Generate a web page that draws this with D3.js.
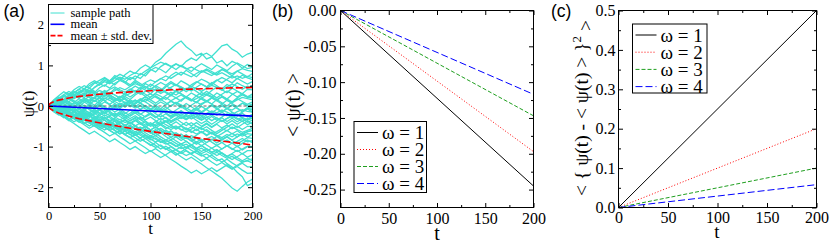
<!DOCTYPE html>
<html>
<head>
<meta charset="utf-8">
<script src="https://cdn.jsdelivr.net/npm/d3@7"></script>
<style>
  body { margin: 0; background: #fff; }
  svg { display: block; }
  .serif { font-family: "Liberation Serif", "Times New Roman", "DejaVu Serif", serif; }
  .sans { font-family: "Liberation Sans", Arial, "DejaVu Sans", sans-serif; }
</style>
</head>
<body>
<svg width="830" height="243"></svg>
<script>
// ---- data ----
const tTicks = [0, 50, 100, 150, 200];
const tMinor = [25, 75, 125, 175];

// (a) sample paths, one value every 5 time units
const pathT = [0,5,10,15,20,25,30,35,40,45,50,55,60,65,70,75,80,85,90,95,100,
  105,110,115,120,125,130,135,140,145,150,155,160,165,170,175,180,185,190,195,200];
const samplePaths = [
  [0,.1,.04,.15,.27,.2,.33,.4,.31,.46,.55,.49,.62,.7,.63,.77,.86,.8,.93,1.01,.94,1.08,1.16,1.3,1.41,1.52,1.6,1.46,1.37,1.24,1.3,1.16,1.21,1.06,1.12,.99,1.1,1.04,.93,1.02,.97],
  [0,-.05,.08,.16,.1,.22,.3,.25,.38,.33,.45,.52,.44,.56,.63,.58,.7,.66,.8,.74,.88,.95,.9,.82,.95,1.03,.97,1.1,1.18,1.12,1.25,1.3,1.22,1.35,1.48,1.52,1.4,1.33,1.2,1.28,1.32],
  [0,.12,.2,.14,.28,.36,.3,.42,.5,.58,.51,.64,.57,.7,.78,.72,.65,.74,.68,.8,.9,.84,.97,1.05,.98,.9,1,.93,.85,.96,1.04,.97,.9,1.01,.94,.87,.98,1.06,.99,.92,.95],
  [0,.06,-.04,.09,.18,.12,.05,.15,.24,.18,.3,.38,.31,.43,.36,.28,.4,.49,.42,.55,.48,.6,.68,.62,.75,.83,.76,.88,.8,.72,.84,.91,.85,.78,.9,.83,.74,.86,.79,.72,.8],
  [0,-.1,-.02,.1,.04,-.06,.05,.14,.08,.2,.13,.25,.33,.27,.2,.31,.4,.34,.46,.39,.3,.42,.35,.47,.56,.5,.62,.55,.47,.58,.66,.6,.52,.63,.7,.64,.57,.68,.61,.54,.6],
  [0,.15,.25,.35,.28,.4,.48,.42,.55,.62,.56,.68,.6,.52,.64,.57,.48,.59,.51,.43,.54,.46,.38,.5,.43,.35,.46,.4,.52,.6,.54,.47,.58,.5,.42,.53,.46,.57,.5,.44,.5],
  [0,.04,.12,.06,-.03,.08,.02,-.07,.04,.13,.07,.18,.26,.2,.12,.23,.16,.27,.35,.29,.21,.32,.4,.33,.25,.36,.3,.22,.14,.25,.33,.27,.38,.46,.4,.33,.44,.37,.3,.41,.4],
  [0,-.08,-.15,-.07,.04,-.03,.08,.16,.1,.02,.12,.2,.14,.06,-.03,.07,.15,.09,.18,.11,.22,.3,.24,.16,.27,.2,.12,.23,.16,.08,.19,.27,.21,.32,.25,.17,.28,.36,.29,.22,.3],
  [0,.1,.18,.26,.2,.32,.42,.5,.44,.56,.63,.7,.62,.75,.68,.6,.52,.63,.55,.47,.4,.5,.43,.35,.28,.38,.3,.22,.32,.25,.17,.1,.2,.13,.24,.17,.1,.2,.27,.21,.2],
  [0,.05,-.05,-.12,-.04,-.13,-.2,-.11,-.02,-.09,.02,.1,.03,-.06,.05,-.03,.07,.14,.08,.17,.1,.02,-.07,.04,.12,.06,.15,.23,.16,.09,.2,.13,.05,.16,.08,0,.1,.18,.11,.04,.1],
  [0,-.12,-.05,-.14,-.22,-.15,-.25,-.18,-.28,-.2,-.1,-.18,-.08,.02,-.06,.04,.12,.05,.14,.22,.15,.07,.16,.08,-.01,.09,.01,-.08,.02,.1,.03,.12,.2,.13,.05,.14,.06,-.02,.07,0,.05],
  [0,.08,.16,.09,.2,.13,.04,.14,.06,-.03,.07,-.02,-.1,-.02,-.11,-.19,-.1,-.18,-.09,0,-.08,.02,.1,.03,.12,.05,-.04,.06,-.02,-.1,-.01,-.09,-.17,-.08,0,-.07,.03,-.05,-.13,-.04,-.05],
  [0,-.06,.04,-.05,-.14,-.06,-.15,-.24,-.16,-.26,-.34,-.27,-.36,-.29,-.2,-.3,-.22,-.13,-.21,-.12,-.2,-.28,-.19,-.11,-.19,-.1,-.02,-.1,-.18,-.09,-.17,-.08,.01,-.07,-.15,-.06,.02,-.06,-.14,-.05,-.1],
  [0,.1,.02,.11,.19,.27,.2,.3,.38,.31,.22,.32,.24,.15,.24,.16,.07,-.02,.07,-.01,-.1,-.02,-.11,-.03,-.12,-.2,-.12,-.21,-.13,-.22,-.3,-.22,-.14,-.23,-.15,-.24,-.16,-.25,-.18,-.27,-.2],
  [0,-.04,-.12,-.2,-.13,-.05,-.14,-.07,.02,-.06,.04,-.04,-.13,-.22,-.14,-.23,-.31,-.24,-.33,-.25,-.17,-.26,-.35,-.28,-.37,-.3,-.22,-.31,-.24,-.16,-.25,-.34,-.26,-.35,-.27,-.19,-.28,-.2,-.29,-.33,-.25],
  [0,.06,-.03,-.11,-.19,-.12,-.21,-.29,-.37,-.3,-.4,-.48,-.4,-.5,-.42,-.33,-.42,-.35,-.45,-.38,-.47,-.39,-.3,-.39,-.31,-.22,-.31,-.23,-.32,-.25,-.34,-.27,-.36,-.29,-.38,-.3,-.22,-.3,-.38,-.31,-.3],
  [0,.13,.22,.15,.25,.33,.41,.34,.44,.36,.27,.36,.28,.19,.1,.19,.1,.01,-.08,.01,-.07,-.16,-.08,-.17,-.25,-.17,-.26,-.34,-.26,-.35,-.43,-.36,-.45,-.37,-.29,-.38,-.3,-.39,-.31,-.4,-.35],
  [0,-.1,-.18,-.27,-.2,-.3,-.22,-.13,-.22,-.14,-.23,-.15,-.06,-.15,-.07,-.16,-.25,-.17,-.26,-.34,-.27,-.36,-.45,-.38,-.47,-.55,-.48,-.4,-.49,-.41,-.5,-.42,-.51,-.43,-.35,-.44,-.36,-.45,-.37,-.46,-.4],
  [0,.04,.12,.05,-.04,-.12,-.05,-.14,-.22,-.3,-.23,-.32,-.25,-.34,-.42,-.35,-.44,-.36,-.28,-.37,-.46,-.38,-.47,-.56,-.48,-.57,-.5,-.59,-.51,-.6,-.52,-.44,-.53,-.45,-.54,-.47,-.56,-.49,-.58,-.5,-.5],
  [0,-.13,-.06,-.15,-.08,.01,-.07,.02,-.06,-.15,-.07,-.16,-.24,-.17,-.26,-.34,-.43,-.35,-.44,-.52,-.45,-.54,-.46,-.38,-.47,-.39,-.48,-.56,-.65,-.57,-.66,-.58,-.67,-.75,-.68,-.6,-.69,-.61,-.7,-.63,-.6],
  [0,.08,0,-.09,-.17,-.26,-.19,-.28,-.36,-.29,-.38,-.3,-.39,-.31,-.4,-.49,-.41,-.5,-.58,-.5,-.59,-.67,-.6,-.69,-.61,-.7,-.78,-.71,-.8,-.72,-.64,-.73,-.65,-.74,-.82,-.75,-.84,-.76,-.68,-.77,-.7],
  [0,-.07,-.16,-.24,-.33,-.26,-.35,-.43,-.36,-.45,-.53,-.46,-.55,-.47,-.39,-.48,-.4,-.49,-.42,-.51,-.59,-.52,-.61,-.69,-.62,-.71,-.79,-.72,-.81,-.89,-.82,-.9,-.83,-.75,-.84,-.76,-.85,-.93,-.86,-.78,-.8],
  [0,.03,-.06,.02,-.07,-.15,-.08,-.17,-.25,-.18,-.27,-.35,-.44,-.37,-.46,-.54,-.47,-.56,-.64,-.57,-.66,-.58,-.67,-.59,-.68,-.76,-.69,-.78,-.86,-.79,-.88,-.8,-.89,-.97,-.9,-.99,-.91,-1,-.92,-.84,-.9],
  [0,-.14,-.22,-.15,-.24,-.32,-.4,-.33,-.42,-.5,-.43,-.52,-.6,-.53,-.62,-.7,-.63,-.72,-.64,-.56,-.65,-.73,-.66,-.75,-.83,-.76,-.85,-.77,-.86,-.94,-.87,-.96,-1.04,-.97,-1.06,-.98,-1.07,-.99,-1.08,-1,-1],
  [0,.09,.02,-.07,.01,-.08,-.16,-.09,-.18,-.26,-.35,-.28,-.37,-.45,-.54,-.47,-.56,-.64,-.57,-.66,-.74,-.67,-.76,-.84,-.77,-.86,-.94,-.87,-.96,-1.04,-.97,-1.06,-1.14,-1.07,-1.16,-1.24,-1.17,-1.09,-1.18,-1.1,-1.1],
  [0,-.05,-.14,-.22,-.31,-.39,-.32,-.41,-.49,-.42,-.51,-.59,-.52,-.61,-.69,-.62,-.71,-.63,-.72,-.8,-.73,-.82,-.9,-.83,-.92,-1,-.93,-1.02,-.95,-1.04,-1.12,-1.05,-1.14,-1.22,-1.15,-1.24,-1.32,-1.25,-1.17,-1.26,-1.2],
  [0,-.1,-.19,-.27,-.36,-.29,-.38,-.46,-.55,-.48,-.57,-.65,-.74,-.67,-.76,-.84,-.93,-.86,-.95,-1.03,-1.12,-1.05,-1.14,-1.22,-1.31,-1.39,-1.48,-1.56,-1.65,-1.58,-1.67,-1.6,-1.52,-1.61,-1.53,-1.45,-1.54,-1.46,-1.38,-1.34,-1.3],
  [0,.05,-.04,-.12,-.05,-.14,-.22,-.31,-.24,-.33,-.41,-.5,-.43,-.52,-.6,-.53,-.62,-.7,-.79,-.72,-.81,-.89,-.82,-.91,-.99,-1.08,-1.01,-1.1,-1.18,-1.11,-1.2,-1.28,-1.21,-1.3,-1.38,-1.31,-1.4,-1.48,-1.41,-1.5,-1.5],
  [0,-.12,-.2,-.29,-.22,-.31,-.39,-.32,-.41,-.49,-.58,-.51,-.6,-.68,-.61,-.7,-.78,-.71,-.8,-.88,-.97,-.9,-.99,-1.07,-1,-1.09,-1.17,-1.1,-1.19,-1.27,-1.36,-1.29,-1.38,-1.46,-1.39,-1.48,-1.56,-1.49,-1.58,-1.66,-1.65],
  [0,-.03,-.11,-.04,-.13,-.21,-.3,-.23,-.32,-.4,-.49,-.42,-.51,-.59,-.68,-.61,-.7,-.78,-.87,-.8,-.89,-.97,-1.06,-.99,-1.08,-1.16,-1.25,-1.33,-1.26,-1.35,-1.43,-1.52,-1.6,-1.69,-1.78,-1.9,-2.02,-2.1,-1.98,-1.87,-1.8],
  [0,.11,.19,.28,.36,.29,.2,.29,.21,.12,.21,.13,.04,.13,.21,.3,.22,.31,.4,.48,.41,.5,.58,.51,.6,.52,.44,.35,.44,.36,.27,.36,.28,.2,.29,.37,.3,.22,.31,.23,.25],
  [0,-.09,-.18,-.26,-.35,-.43,-.52,-.6,-.69,-.62,-.71,-.79,-.88,-.81,-.9,-.98,-1.07,-1,-1.09,-1.17,-1.1,-1.19,-1.27,-1.2,-1.12,-1.21,-1.13,-1.05,-.97,-1.06,-.98,-.9,-.82,-.91,-.83,-.75,-.67,-.76,-.68,-.64,-.6],
  [0,-.02,.07,.15,.08,-.01,.08,0,-.09,-.17,-.1,-.19,-.11,-.02,.06,-.02,.07,.15,.07,-.02,-.1,-.19,-.27,-.19,-.28,-.2,-.12,-.21,-.13,-.05,-.14,-.06,.03,-.05,-.14,-.06,-.15,-.23,-.15,-.07,-.15],
  [0,.07,.15,.08,.17,.09,.18,.1,.02,-.07,.01,-.08,-.16,-.25,-.17,-.26,-.18,-.1,-.19,-.27,-.2,-.29,-.21,-.3,-.38,-.31,-.4,-.48,-.41,-.5,-.58,-.51,-.6,-.68,-.6,-.52,-.44,-.53,-.45,-.37,-.45],
  [0,-.06,-.14,-.07,-.16,-.24,-.17,-.26,-.18,-.1,-.19,-.11,-.03,.05,-.03,.06,-.02,.07,.15,.23,.16,.25,.17,.26,.34,.27,.36,.44,.37,.46,.54,.47,.56,.64,.57,.66,.74,.67,.76,.69,.65],
  [0,-.08,0,-.09,-.17,-.26,-.34,-.27,-.36,-.28,-.37,-.45,-.38,-.47,-.39,-.48,-.4,-.49,-.57,-.5,-.59,-.51,-.6,-.68,-.77,-.7,-.79,-.87,-.96,-.89,-.98,-1.06,-1.15,-1.08,-1.17,-1.25,-1.18,-1.27,-1.35,-1.28,-1.35],
  [0,.07,.16,.12,.04,-.05,-.02,.09,.15,.11,.2,.28,.21,.13,.17,.08,-.01,.05,.14,.1,.02,-.06,-.13,-.08,.01,.08,.03,-.05,-.12,-.04,.06,.12,.05,-.03,.04,-.06,-.1,-.02,.07,.02,0],
  [0,-.04,-.09,-.18,-.13,-.21,-.17,-.1,-.16,-.25,-.3,-.22,-.29,-.37,-.33,-.41,-.36,-.28,-.33,-.42,-.5,-.45,-.38,-.46,-.53,-.49,-.58,-.64,-.57,-.5,-.55,-.62,-.69,-.63,-.56,-.61,-.52,-.58,-.65,-.6,-.55],
  [0,.09,.05,.14,.22,.18,.26,.21,.3,.36,.29,.24,.33,.27,.19,.25,.31,.38,.32,.24,.3,.22,.15,.21,.13,.2,.27,.19,.12,.18,.25,.3,.23,.16,.22,.14,.08,.15,.21,.18,.15],
  [0,-.08,-.03,-.12,-.19,-.14,-.23,-.29,-.24,-.32,-.4,-.35,-.43,-.38,-.47,-.55,-.5,-.58,-.52,-.6,-.67,-.61,-.55,-.63,-.71,-.66,-.74,-.8,-.73,-.78,-.86,-.81,-.75,-.83,-.9,-.84,-.92,-.87,-.8,-.88,-.85],
  [0,.05,.13,.1,.19,.25,.19,.28,.35,.3,.38,.33,.41,.47,.4,.34,.42,.37,.29,.36,.44,.39,.31,.38,.46,.53,.47,.4,.48,.43,.36,.44,.51,.46,.39,.47,.54,.48,.41,.49,.45],
  [0,-.11,-.07,-.16,-.24,-.2,-.28,-.35,-.42,-.37,-.46,-.53,-.6,-.68,-.62,-.71,-.78,-.86,-.8,-.88,-.95,-1.02,-.96,-1.05,-1.13,-1.07,-1.15,-1.22,-1.16,-1.09,-1.17,-1.11,-1.04,-1.12,-1.06,-.98,-1.05,-1.12,-1.06,-.99,-1],
  [0,.1,.16,.24,.31,.27,.35,.3,.22,.28,.2,.13,.19,.11,.04,.1,.02,-.05,.01,-.07,-.13,-.08,-.15,-.1,-.18,-.24,-.19,-.26,-.21,-.29,-.35,-.28,-.22,-.3,-.37,-.31,-.25,-.33,-.28,-.35,-.3],
  [0,.04,-.05,-.01,-.1,-.06,-.14,-.21,-.16,-.09,-.17,-.24,-.19,-.27,-.34,-.28,-.36,-.31,-.4,-.47,-.41,-.49,-.44,-.52,-.58,-.51,-.59,-.54,-.62,-.69,-.63,-.71,-.65,-.72,-.78,-.7,-.76,-.69,-.74,-.68,-.7],
  [0,-.03,.05,.01,.09,.04,.12,.19,.14,.22,.29,.24,.32,.38,.45,.4,.48,.55,.5,.58,.64,.59,.67,.74,.68,.76,.83,.78,.72,.8,.87,.81,.75,.83,.9,.85,.79,.86,.92,.88,.85],
  [0,-.06,-.13,-.09,-.17,-.25,-.2,-.29,-.36,-.31,-.4,-.47,-.42,-.5,-.57,-.52,-.6,-.68,-.63,-.71,-.78,-.73,-.82,-.89,-.84,-.92,-.99,-.94,-1.02,-1.09,-1.04,-1.12,-1.19,-1.14,-1.22,-1.29,-1.24,-1.32,-1.38,-1.35,-1.4],
  [0,-.05,-.12,-.2,-.16,-.24,-.31,-.27,-.35,-.42,-.38,-.46,-.52,-.47,-.55,-.61,-.56,-.5,-.57,-.51,-.44,-.49,-.42,-.36,-.41,-.34,-.28,-.33,-.26,-.2,-.25,-.18,-.12,-.17,-.1,-.15,-.21,-.14,-.09,-.13,-.15],
  [0,.08,.15,.23,.18,.27,.35,.42,.37,.45,.53,.6,.55,.63,.71,.66,.75,.82,.77,.86,.94,1.01,1.08,1.03,.97,1.04,.98,.91,.96,.89,.83,.88,.81,.76,.82,.75,.69,.74,.68,.73,.7],
  [0,-.07,-.15,-.11,-.2,-.27,-.23,-.31,-.38,-.34,-.43,-.5,-.46,-.54,-.61,-.57,-.65,-.72,-.68,-.76,-.83,-.79,-.87,-.94,-.9,-.98,-1.05,-1.01,-1.09,-1.16,-1.23,-1.18,-1.27,-1.35,-1.3,-1.42,-1.5,-1.63,-1.74,-1.96,-1.9]
];

// (a) mean and mean +- std. dev.
const meanT = [0, 50, 100, 150, 200];
const meanPsi = [0, -0.062, -0.125, -0.187, -0.25];
const stdT = [0, 1, 2, 5, 10, 20, 30, 45, 60, 80, 100, 125, 150, 175, 200];
const stdUpper = [0, .049, .068, .106, .145, .199, .236, .279, .312, .347, .375, .403, .424, .442, .457];
const stdLower = [0, -.051, -.074, -.118, -.171, -.249, -.312, -.391, -.462, -.547, -.625, -.715, -.8, -.88, -.96];

// (b), (c)
const omegaLabels = ['ω = 1', 'ω = 2', 'ω = 3', 'ω = 4'];
const omegaColors = ['#000000', '#ff0000', '#1f9f1f', '#0000ff'];
const omegaDash = [null, '1,2', '4,2', '7,3'];
const lineT = [0, 200];
const meanByOmega = [[0, -0.245], [0, -0.197], [0, -0.147], [0, -0.117]];
const varByOmega = [[0, 0.5], [0, 0.2], [0, 0.1], [0, 0.058]];

const aTicks = [-2, -1, 0, 1, 2];
const aMinor = [-1.5, -0.5, 0.5, 1.5];
const bTicks = [0, -0.05, -0.10, -0.15, -0.20, -0.25];
const bMinor = [-0.025, -0.075, -0.125, -0.175, -0.225];
const cTicks = [0, 0.1, 0.2, 0.3, 0.4, 0.5];
const cMinor = [0.05, 0.15, 0.25, 0.35, 0.45];

const svg = d3.select('svg');

const makePanel = p => {
  const g = svg.append('g').attr('transform', `translate(${p.left},${p.top})`);
  const w = p.right - p.left, h = p.bottom - p.top;
  const x = d3.scaleLinear().domain([0, 200]).range([0, w]);
  const y = d3.scaleLinear().domain(p.yDomain).range([h, 0]);
  return { g, x, y, w, h };
};

const drawFrame = (P, p) => {
  const { g, x, y, w, h } = P;
  const axes = g.append('g');
  // minor ticks, all four sides, pointing in
  axes.append('g').attr('transform', `translate(0,${h})`)
    .call(d3.axisBottom(x).tickValues(tMinor).tickSize(-2.5).tickFormat(''));
  axes.append('g')
    .call(d3.axisTop(x).tickValues(tMinor).tickSize(-2.5).tickFormat(''));
  axes.append('g')
    .call(d3.axisLeft(y).tickValues(p.yMinor).tickSize(-2.5).tickFormat(''));
  axes.append('g').attr('transform', `translate(${w},0)`)
    .call(d3.axisRight(y).tickValues(p.yMinor).tickSize(-2.5).tickFormat(''));
  // major ticks
  axes.append('g').attr('class', 'lab').attr('transform', `translate(0,${h})`)
    .call(d3.axisBottom(x).tickValues(tTicks).tickSize(-4.5).tickPadding(p.xPad).tickFormat(d3.format('d')));
  axes.append('g')
    .call(d3.axisTop(x).tickValues(tTicks).tickSize(-4.5).tickFormat(''));
  axes.append('g').attr('class', 'lab')
    .call(d3.axisLeft(y).tickValues(p.yTicks).tickSize(-4.5).tickPadding(p.yPad).tickFormat(p.yFormat));
  axes.append('g').attr('transform', `translate(${w},0)`)
    .call(d3.axisRight(y).tickValues(p.yTicks).tickSize(-4.5).tickFormat(''));
  axes.selectAll('.domain').remove();
  axes.selectAll('g').attr('font-family', null).attr('font-size', null);
  axes.selectAll('.tick line').attr('stroke', '#000');
  axes.selectAll('.lab text')
    .attr('class', 'serif')
    .style('font-size', p.fs + 'px')
    .attr('fill', '#000');
  g.append('rect')
    .attr('x', 0).attr('y', 0).attr('width', w).attr('height', h)
    .attr('fill', 'none').attr('stroke', '#000').attr('stroke-width', 1);
};

const dashFmt = f => v => d3.format(f)(v).replace('−', '-');

const addText = (x, y, size, txt, cls = 'serif', anchor = 'middle', rot = false) =>
  svg.append('text')
    .attr('class', cls)
    .attr('transform', rot ? `translate(${x},${y}) rotate(-90)` : `translate(${x},${y})`)
    .attr('text-anchor', anchor)
    .style('font-size', size + 'px')
    .text(txt);

// ---------------- panel (a) ----------------
const pa = { left: 48.5, right: 252.5, top: 4.5, bottom: 207.5, yDomain: [-2.5, 2.5],
  yTicks: aTicks, yMinor: aMinor, yFormat: dashFmt('d'), fs: 12.5, xPad: 3.3, yPad: 4.5 };
const A = makePanel(pa);
A.g.append('clipPath').attr('id', 'clipA')
  .append('rect').attr('width', A.w).attr('height', A.h);
const plotA = A.g.append('g').attr('clip-path', 'url(#clipA)');

const pathLine = d3.line().x((d, i) => A.x(pathT[i])).y(d => A.y(d));
plotA.selectAll('path.sample').data(samplePaths).enter().append('path')
  .attr('class', 'sample')
  .attr('d', pathLine)
  .attr('fill', 'none').attr('stroke', '#40e0d0').attr('stroke-width', 1.3);

plotA.append('line')
  .attr('x1', A.x(0)).attr('x2', A.x(200)).attr('y1', A.y(0)).attr('y2', A.y(0))
  .attr('stroke', '#666').attr('stroke-width', 1).attr('stroke-dasharray', '3,2');

const lineA = ts => d3.line().x((d, i) => A.x(ts[i])).y(d => A.y(d));
plotA.append('path').attr('d', lineA(meanT)(meanPsi))
  .attr('fill', 'none').attr('stroke', '#0000ff').attr('stroke-width', 1.6);
[stdUpper, stdLower].forEach(s => {
  plotA.append('path').attr('d', lineA(stdT)(s))
    .attr('fill', 'none').attr('stroke', '#ff0000').attr('stroke-width', 1.6)
    .attr('stroke-dasharray', '7,3');
});

drawFrame(A, pa);

// legend (a)
const legA = A.g.append('g');
legA.append('rect').attr('x', 0).attr('y', 0).attr('width', 104.5).attr('height', 39)
  .attr('fill', '#fff').attr('stroke', '#000');
const legAItems = [
  { label: 'sample path', color: '#40e0d0', dash: null, w: 1 },
  { label: 'mean', color: '#0000ff', dash: null, w: 1.6 },
  { label: 'mean ± std. dev.', color: '#ff0000', dash: '5,2', w: 1.6 }
];
legAItems.forEach((d, i) => {
  const yy = 8.5 + i * 11.3;
  legA.append('line').attr('x1', 2).attr('x2', 16).attr('y1', yy).attr('y2', yy)
    .attr('stroke', d.color).attr('stroke-width', d.w).attr('stroke-dasharray', d.dash);
  legA.append('text').attr('class', 'serif').attr('x', 22).attr('y', yy).attr('dy', '0.33em')
    .style('font-size', '12.5px').text(d.label);
});

addText(150.5, 234, 17, 't');
addText(33.5, 104, 17, 'ψ(t)', 'serif', 'middle', true);
addText(3.5, 16.5, 17.5, '(a)', 'sans', 'start');

// ---------------- panel (b) ----------------
const pb = { left: 340.5, right: 533.5, top: 10.5, bottom: 207.5, yDomain: [-0.275, 0],
  yTicks: bTicks, yMinor: bMinor, yFormat: dashFmt('.2f'), fs: 16, xPad: 5.3, yPad: 4 };
const B = makePanel(pb);
const lineB = d3.line().x((d, i) => B.x(lineT[i])).y(d => B.y(d));
B.g.selectAll('path.om').data(meanByOmega).enter().append('path')
  .attr('class', 'om')
  .attr('d', lineB)
  .attr('fill', 'none')
  .attr('stroke', (d, i) => omegaColors[i])
  .attr('stroke-width', 1)
  .attr('stroke-dasharray', (d, i) => omegaDash[i]);
drawFrame(B, pb);

const drawOmegaLegend = (P, bx, by, bw, bh, gap) => {
  const leg = P.g.append('g').attr('transform', `translate(${bx},${by})`);
  leg.append('rect').attr('width', bw).attr('height', bh)
    .attr('fill', '#fff').attr('stroke', '#000');
  omegaLabels.forEach((lab, i) => {
    const yy = 11 + i * gap;
    leg.append('line').attr('x1', 3).attr('x2', 24).attr('y1', yy).attr('y2', yy)
      .attr('stroke', omegaColors[i]).attr('stroke-width', 1)
      .attr('stroke-dasharray', omegaDash[i]);
    leg.append('text').attr('class', 'serif').attr('x', 28).attr('y', yy).attr('dy', '0.35em')
      .style('font-size', '19px').text(lab);
  });
};
drawOmegaLegend(B, 13.5, 111, 72.5, 71, 17);

addText(437, 239.5, 20, 't');
addText(299.5, 105, 20, '< ψ(t) >', 'serif', 'middle', true);
addText(272, 16.5, 17.5, '(b)', 'sans', 'start');

// ---------------- panel (c) ----------------
const pc = { left: 618.5, right: 816.5, top: 10.5, bottom: 207.5, yDomain: [0, 0.5],
  yTicks: cTicks, yMinor: cMinor, yFormat: d3.format('.1f'), fs: 16, xPad: 4.3, yPad: 3 };
const C = makePanel(pc);
const lineC = d3.line().x((d, i) => C.x(lineT[i])).y(d => C.y(d));
C.g.selectAll('path.om').data(varByOmega).enter().append('path')
  .attr('class', 'om')
  .attr('d', lineC)
  .attr('fill', 'none')
  .attr('stroke', (d, i) => omegaColors[i])
  .attr('stroke-width', 1)
  .attr('stroke-dasharray', (d, i) => omegaDash[i]);
drawFrame(C, pc);
drawOmegaLegend(C, 14, 13.5, 74.5, 69, 17.2);

addText(717, 238, 19, 't');
const cLab = addText(588, 108, 19.5, '', 'serif', 'middle', true);
cLab.append('tspan').text('< { ψ(t) - < ψ(t) > }');
cLab.append('tspan').attr('dy', '-0.55em').style('font-size', '13px').text('2');
cLab.append('tspan').attr('dy', '0.55em').text(' >');
addText(551, 16.5, 17.5, '(c)', 'sans', 'start');
</script>
</body>
</html>
